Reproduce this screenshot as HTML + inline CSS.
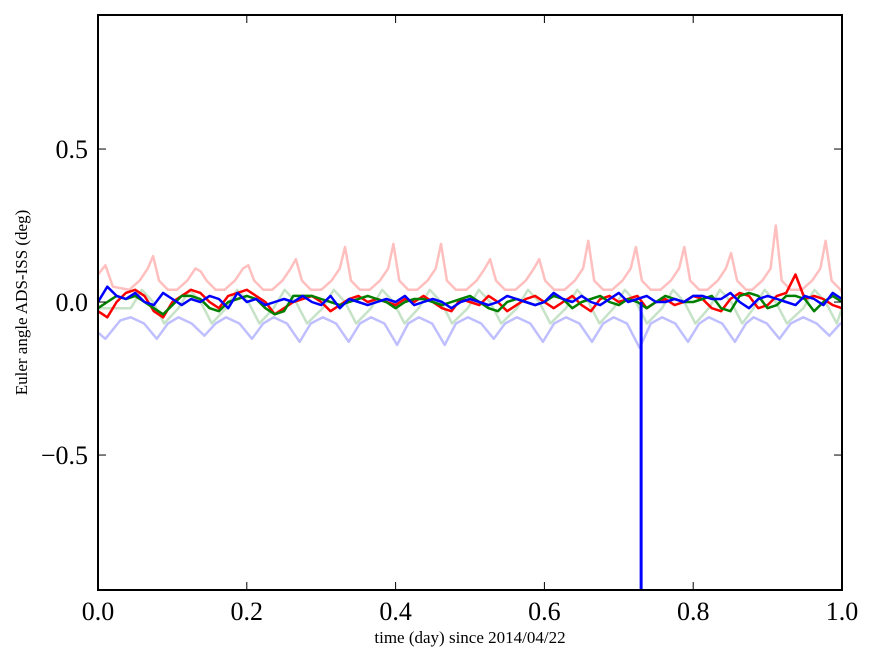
<!DOCTYPE html>
<html><head><meta charset="utf-8"><style>
html,body{margin:0;padding:0;background:#fff;}
svg{display:block;font-family:"Liberation Serif",serif;}
</style></head><body>
<svg id="chart" width="875" height="662" viewBox="0 0 875 662">
<g id="series"></g>
<g id="axes"></g>
</svg>
<script>
// ---- data ----
const xTicks = [0.0, 0.2, 0.4, 0.6, 0.8, 1.0];
const xTickLabels = ["0.0", "0.2", "0.4", "0.6", "0.8", "1.0"];
const yTicks = [-0.5, 0.0, 0.5];
const yTickLabels = ["\u22120.5", "0.0", "0.5"];
const orbitPeaks = [0.074,0.138,0.202,0.266,0.332,0.397,0.461,0.527,0.593,0.659,0.723,0.788,0.851,0.911,0.978];
const pinkPeakHeights = [0.15,0.10,0.12,0.14,0.18,0.19,0.19,0.14,0.14,0.20,0.18,0.18,0.16,0.25,0.20];
const pinkShapeOffsets = [-0.032,-0.018,-0.007,0,0.008,0.02];
const pinkShapeValues = [0.04,0.07,0.11,null,0.07,0.04];
const lightBlueDips = [-0.12,-0.11,-0.12,-0.13,-0.13,-0.14,-0.14,-0.12,-0.13,-0.13,-0.15,-0.13,-0.13,-0.12,-0.11];
const lightBlueOffsets = [-0.03,-0.012,0.005,0.02];
const lightBlueBase = [-0.05,-0.07,null,-0.07];
const lightGreenOffsets = [-0.03,-0.015,0.0,0.015];
const lightGreenValues = [-0.02,0.04,0.0,-0.07];
const redValues = [-0.03,-0.05,0.0,0.03,0.04,0.02,-0.03,-0.05,0.0,0.02,0.04,0.03,0.0,-0.02,0.02,0.03,0.04,0.02,0.0,-0.04,-0.02,0.0,0.01,0.02,0.0,-0.03,-0.01,0.01,0.02,0.0,0.01,0.0,-0.01,0.01,0.0,0.02,0.0,-0.02,-0.03,0.01,0.0,-0.01,0.02,0.0,-0.03,-0.01,0.01,0.02,0.0,-0.02,0.0,0.02,-0.01,-0.03,0.01,0.02,0.0,0.01,0.02,-0.02,0.0,0.01,-0.01,0.0,0.02,0.01,-0.02,-0.03,0.01,0.03,0.02,-0.02,-0.01,0.02,0.03,0.09,0.01,0.02,0.01,-0.01,-0.02];
const greenValues = [-0.02,0.0,0.02,0.01,0.02,0.0,-0.02,-0.04,-0.01,0.02,0.02,0.01,-0.02,-0.03,0.0,0.01,0.02,0.01,-0.02,-0.04,-0.03,0.02,0.02,0.02,0.01,0.0,-0.01,0.0,0.01,0.02,0.01,0.0,-0.02,0.0,0.01,0.01,0.0,-0.01,0.0,0.01,0.02,0.0,-0.02,-0.03,0.0,0.01,0.0,-0.01,0.0,0.02,0.01,-0.02,0.0,0.01,0.02,0.0,-0.01,0.01,0.0,-0.02,0.0,0.02,0.01,0.0,0.0,0.01,0.02,-0.02,-0.03,0.02,0.03,0.02,-0.02,-0.01,0.02,0.02,0.01,-0.03,0.0,0.02,0.0];
const blueValues = [0.0,0.05,0.02,0.01,0.03,0.0,-0.01,0.03,0.01,-0.01,0.01,0.0,0.02,0.01,-0.02,0.03,0.0,0.01,-0.01,0.0,0.01,0.0,0.02,0.0,-0.01,0.02,-0.02,0.01,0.0,-0.01,0.0,0.01,0.0,0.02,-0.01,0.0,0.01,0.0,-0.02,0.0,0.01,0.0,-0.01,0.0,0.02,0.01,0.0,-0.01,0.0,0.03,0.01,0.0,0.02,0.0,-0.01,0.01,0.03,0.0,0.01,0.02,0.0,0.0,0.01,0.0,0.02,0.02,0.01,0.01,0.03,0.0,-0.02,0.01,0.02,0.01,0.0,-0.01,0.02,0.01,-0.01,0.03,0.01];
const spikeTime = 0.73;
const spikeValue = -0.94;

// ---- axes ----
const L=98,R=842,T=15,B=590, Y0=0.938, Y1=-0.941;
const xs = v => L + (v-0)/(1-0)*(R-L);
const ys = v => T + (Y0-v)/(Y0-Y1)*(B-T);
const NS='http://www.w3.org/2000/svg';
const sg=document.getElementById('series'), ag=document.getElementById('axes');
function mk(tag, attrs, parent){const e=document.createElementNS(NS,tag);for(const k in attrs)e.setAttribute(k,attrs[k]);parent.appendChild(e);return e;}
function poly(pts, color, w, op, name){
  const e=mk('polyline',{points:pts.map(p=>xs(p[0]).toFixed(1)+','+ys(p[1]).toFixed(1)).join(' '),fill:'none',stroke:color,'stroke-width':w,'stroke-opacity':op,'stroke-linejoin':'round'},sg);
  
  
}
let pk=[[0,0.09],[0.01,0.12],[0.02,0.05]];
orbitPeaks.forEach((p,i)=>pinkShapeOffsets.forEach((o,j)=>{const t=p+o;if(t>0.02&&t<=1)pk.push([t,pinkShapeValues[j]===null?pinkPeakHeights[i]:pinkShapeValues[j]]);}));
pk.push([1,0.03]);
poly(pk,'#ff0000',2.5,0.25,'faint-red-series');
let lb=[[0,-0.1],[0.01,-0.12],[0.03,-0.06]];
orbitPeaks.forEach((p,i)=>lightBlueOffsets.forEach((o,j)=>{const t=p+o;if(t>0.03&&t<=1)lb.push([t,lightBlueBase[j]===null?lightBlueDips[i]:lightBlueBase[j]]);}));
lb.push([1,-0.07]);
poly(lb,'#0000ff',2.5,0.25,'faint-blue-series');
let lg=[[0,-0.02]];
orbitPeaks.forEach((p,i)=>lightGreenOffsets.forEach((o,j)=>{const t=p+o;if(t>0&&t<=1)lg.push([t,lightGreenValues[j]]);}));
lg.push([1,-0.02]);
poly(lg,'#008000',2.5,0.22,'faint-green-series');
const toPts=a=>a.map((v,i)=>[i/(a.length-1),v]);
poly(toPts(redValues),'#ff0000',2.5,1,'red-series');
poly(toPts(greenValues),'#008000',2.5,1,'green-series');
poly(toPts(blueValues),'#0000ff',2.5,1,'blue-series');
const sp=mk('line',{x1:xs(spikeTime),x2:xs(spikeTime),y1:ys(0),y2:ys(spikeValue),stroke:'#0000ff','stroke-width':3},sg);



const fr=mk('rect',{x:L,y:T,width:R-L,height:B-T,fill:'none',stroke:'#000','stroke-width':2},ag);


xTicks.forEach((v,i)=>{
  const x=xs(v);
  mk('line',{x1:x,x2:x,y1:B,y2:B-8,stroke:'#000','stroke-width':1},ag);
  mk('line',{x1:x,x2:x,y1:T,y2:T+8,stroke:'#000','stroke-width':1},ag);
  const t=mk('text',{x:x,y:B+30,'font-size':26,'text-anchor':'middle'},ag);
  t.textContent=xTickLabels[i];
  
  
});
yTicks.forEach((v,i)=>{
  const y=ys(v);
  mk('line',{x1:L,x2:L+8,y1:y,y2:y,stroke:'#000','stroke-width':1},ag);
  mk('line',{x1:R,x2:R-8,y1:y,y2:y,stroke:'#000','stroke-width':1},ag);
  const t=mk('text',{x:L-10,y:y+9,'font-size':26,'text-anchor':'end'},ag);
  t.textContent=yTickLabels[i];
  
  
});
const xl=mk('text',{x:(L+R)/2,y:643,'font-size':17,'text-anchor':'middle'},ag);
xl.textContent='time (day) since 2014/04/22';


const yl=mk('text',{x:27,y:(T+B)/2,'font-size':17,'text-anchor':'middle',transform:'rotate(-90 27 '+((T+B)/2)+')'},ag);
yl.textContent='Euler angle ADS-ISS (deg)';


</script>
</body></html>
